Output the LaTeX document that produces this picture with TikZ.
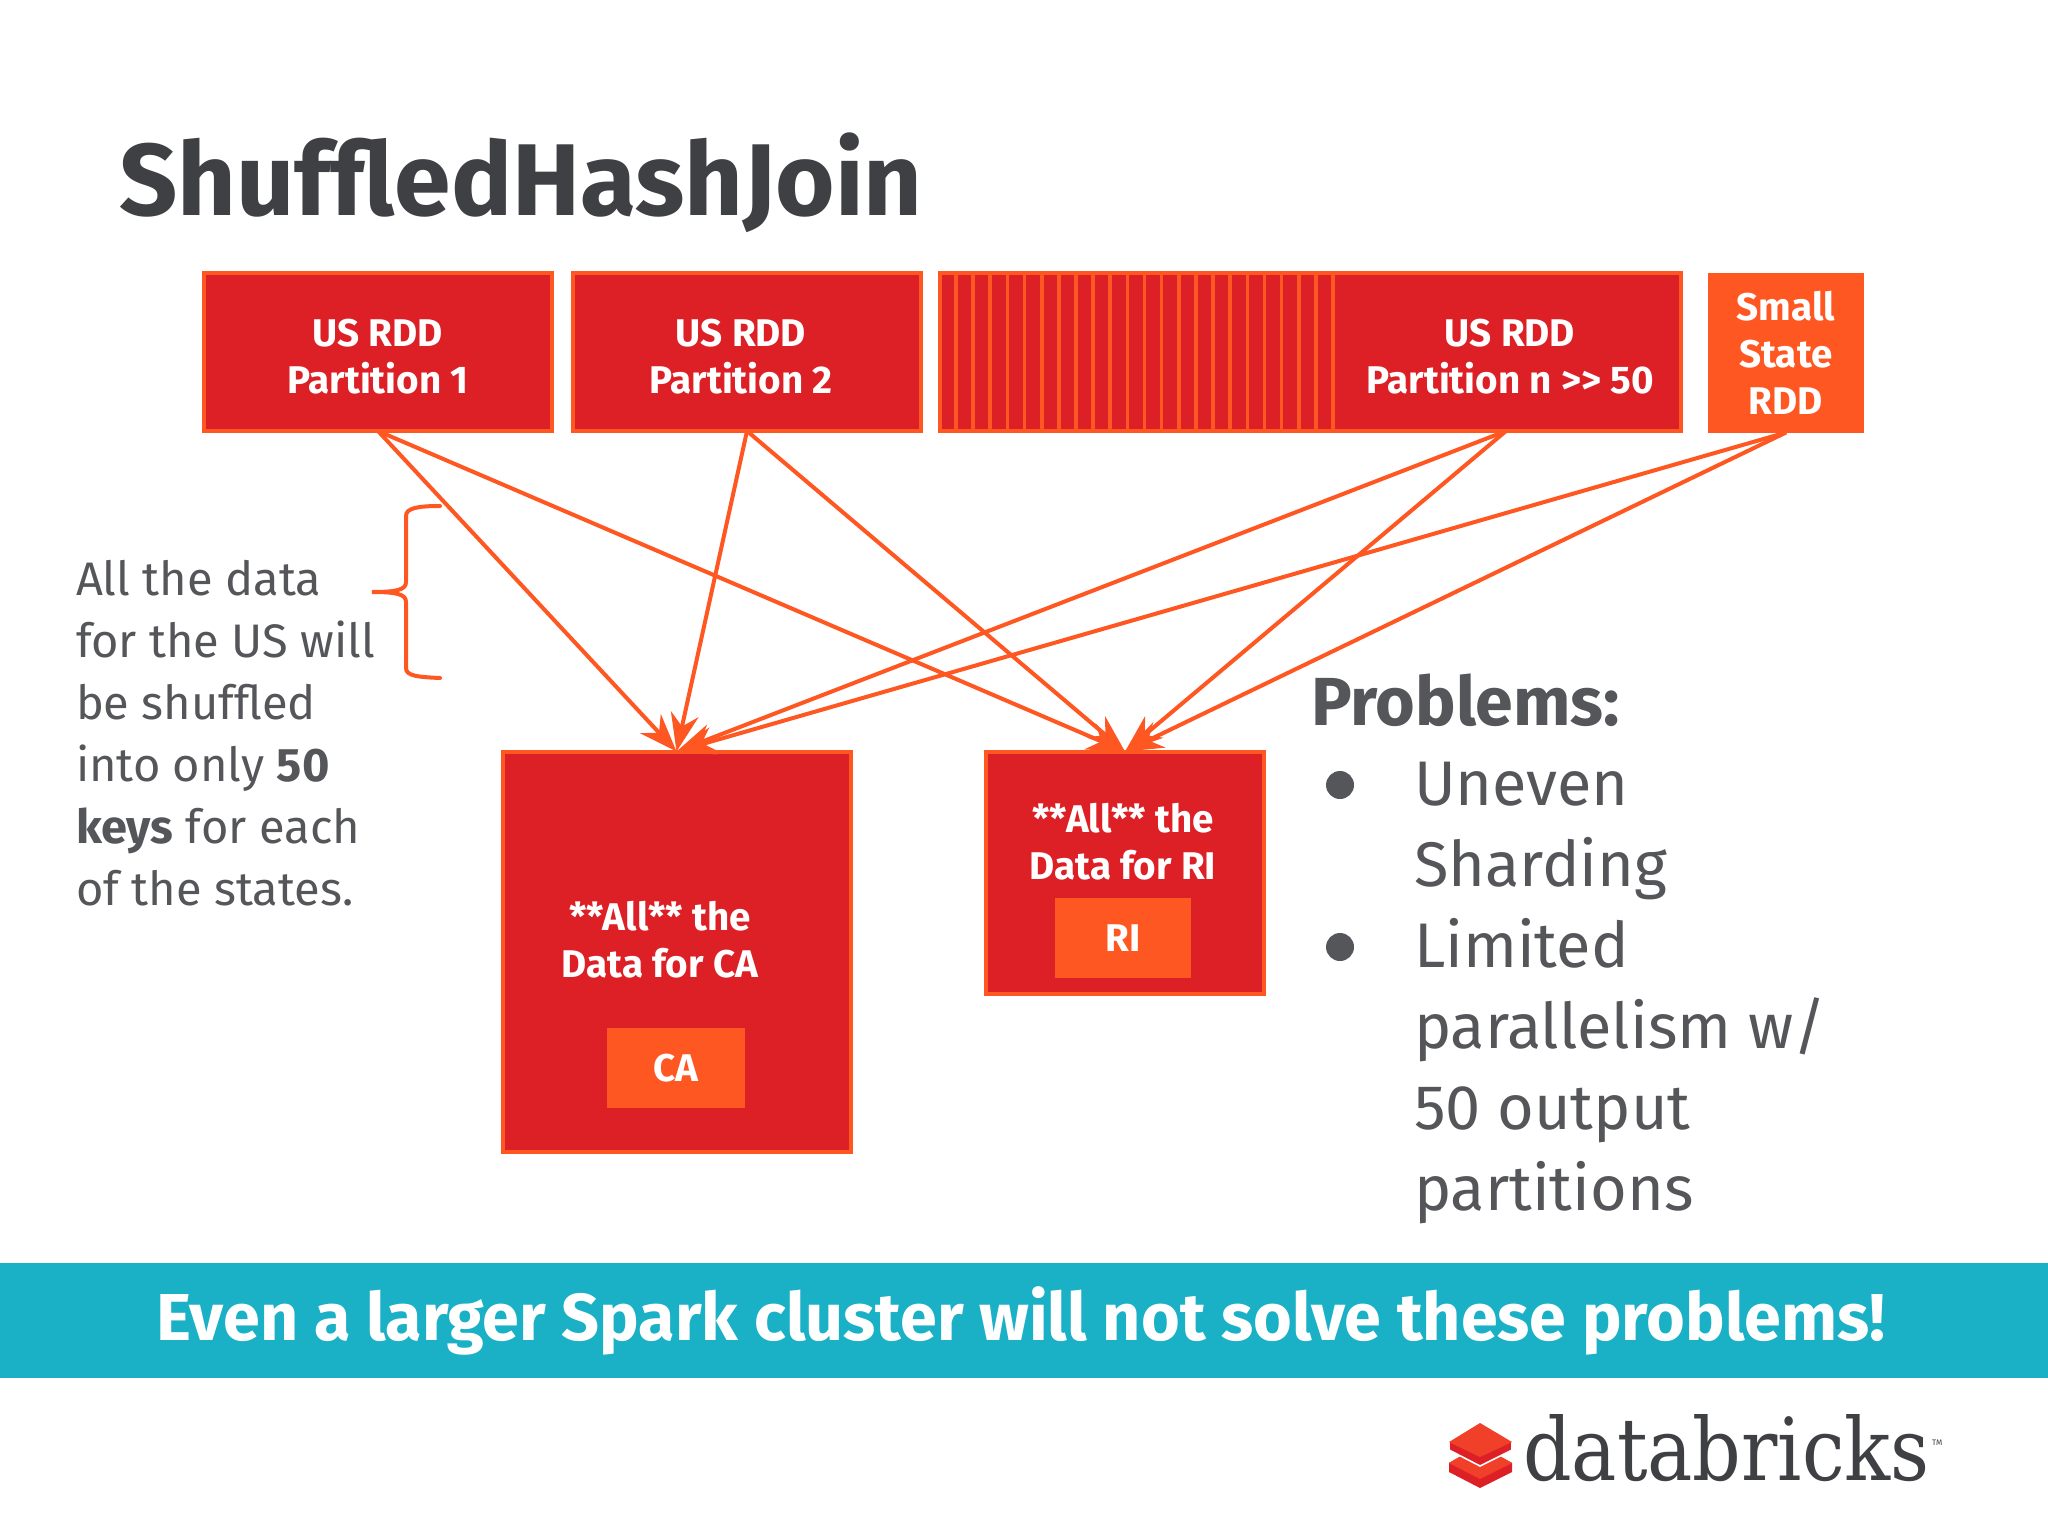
\documentclass[tikz,border=0pt]{standalone}
\usepackage{fontspec}
\setmainfont{Fira Sans}
\newfontfamily\logofont{DejaVu Serif}
\usetikzlibrary{arrows.meta}
\definecolor{boxred}{HTML}{DC2026}
\definecolor{edgeorange}{HTML}{FF5722}
\definecolor{bannerteal}{HTML}{1AB0C5}
\definecolor{textgrey}{HTML}{55565A}
\definecolor{titlegrey}{HTML}{3F4044}
\definecolor{logotop}{HTML}{F0402A}
\begin{document}
\begin{tikzpicture}[x=0.5pt,y=-0.5pt,
  every node/.style = {inner sep=0pt, outer sep=0pt, align=center},
  whitelabel/.style = {text=white, font=\fontsize{19.3}{23.5}\selectfont\bfseries},
  redbox/.style = {rectangle, draw=edgeorange, line width=2pt, fill=boxred},
  chipbox/.style = {rectangle, fill=edgeorange, whitelabel},
  flow/.style = {draw=edgeorange, line width=2pt, -{Stealth[length=19pt,width=14pt]}},
  stripe/.style = {draw=edgeorange, line width=1.8pt},
  sidetext/.style = {text=textgrey, align=left, font=\fontsize{23.5}{31}\selectfont},
  listtext/.style = {text=textgrey, align=left, font=\fontsize{31.5}{40.5}\selectfont}]
  \useasboundingbox (0,0) rectangle (2048,1536);
  \fill[white] (0,0) rectangle (2048,1536);

  \node[anchor=west, text=titlegrey, font=\fontsize{51}{60}\selectfont\bfseries] (title) at (119,183) {Shuf{}f{}ledHashJoin};

  % partitions
  \node[redbox, minimum width=174pt, minimum height=79pt] (p1) at (378,352) {};
  \node[whitelabel] (p1text) at (378,357) {US RDD\\Partition 1};
  \node[redbox, minimum width=174pt, minimum height=79pt] (p2) at (747,352) {};
  \node[whitelabel] (p2text) at (741,357) {US RDD\\Partition 2};
  \node[redbox, minimum width=370.5pt, minimum height=79pt] (pn) at (1310,352) {};
  \foreach \x in {956,973.14,...,1335} {
    \draw[stripe] (\x,273) -- (\x,431);
  }
  \node[whitelabel] (pntext) at (1510,357) {US RDD\\Partition n >{}> 50};
  \coordinate (pnout) at (1506,431);
  \node[chipbox, minimum width=78pt, minimum height=80pt] (small) at (1786,352.5) {Small\\State\\RDD};

  % targets
  \node[redbox, minimum width=174pt, minimum height=200pt] (ca) at (676.5,951.5) {};
  \node[whitelabel] (catext) at (660,940) {**All** the\\Data for CA};
  \node[chipbox, minimum width=69pt, minimum height=40pt] (cakey) at (676,1068) {CA};
  \node[redbox, minimum width=139pt, minimum height=121pt] (ri) at (1125,872.5) {};
  \node[whitelabel] (ritext) at (1123,842) {**All** the\\Data for RI};
  \node[chipbox, minimum width=68pt, minimum height=40pt] (rikey) at (1123,938) {RI};

  \foreach \from in {p1.south,p2.south,pnout,small.south} {
    \draw[flow] (\from) -- (ca.north);
    \draw[flow] (\from) -- (ri.north);
  }

  % left note
  \node[sidetext, anchor=north west] (note) at (76,560) {All the data\\for the US will\\be shuffled\\into only \textbf{50}\\\textbf{keys} for each\\of the states.};
  \draw[draw=edgeorange, line width=2pt, line cap=round]
    (440,506) .. controls (418,506) and (406,508) .. (406,516) -- (406,582)
    .. controls (406,590) and (396,592) .. (372,592)
    .. controls (396,592) and (406,594) .. (406,602) -- (406,668)
    .. controls (406,676) and (418,677) .. (440,678);

  % problems
  \node[anchor=west, text=textgrey, font=\fontsize{34}{40}\selectfont\bfseries] (problems) at (1311,700) {Problems:};
  \node[circle, fill=textgrey, minimum size=14pt] (dot1) at (1340,785) {};
  \node[circle, fill=textgrey, minimum size=14pt] (dot2) at (1340,947) {};
  \node[listtext, anchor=north west] (item1) at (1414,762) {Uneven\\Sharding};
  \node[listtext, anchor=north west] (item2) at (1414,918) {Limited\\parallelism w/\\50 output\\partitions};

  % banner
  \node[rectangle, fill=bannerteal, minimum width=1024pt, minimum height=57.5pt, text=white, font=\fontsize{33.2}{38}\selectfont\bfseries] (banner) at (1024,1320.5) {\hspace*{-3.3pt}\raisebox{1.5pt}{Even a larger Spark cluster will not solve these problems!}};

  % logo
  \fill[boxred] (1449,1463) -- (1480,1445) -- (1512,1463) -- (1512,1472) -- (1480,1488) -- (1449,1472) -- cycle;
  \fill[logotop] (1449,1463) -- (1480,1445) -- (1512,1463) -- (1480,1479) -- cycle;
  \filldraw[fill=boxred, draw=white, line width=0.8pt] (1449,1442) -- (1480,1423) -- (1512,1442) -- (1512,1450) -- (1480,1466) -- (1449,1450) -- cycle;
  \fill[logotop] (1449,1442) -- (1480,1423) -- (1512,1442) -- (1480,1457) -- cycle;
  \node[anchor=base west, text=titlegrey, font=\logofont\fontsize{50}{50}\selectfont] (logo) at (1523,1480) {\resizebox{203.5pt}{33pt}{databricks}};
  \node[anchor=west, text=titlegrey, font=\fontsize{4}{4}\selectfont] (tm) at (1932,1443) {TM};
\end{tikzpicture}
\end{document}
